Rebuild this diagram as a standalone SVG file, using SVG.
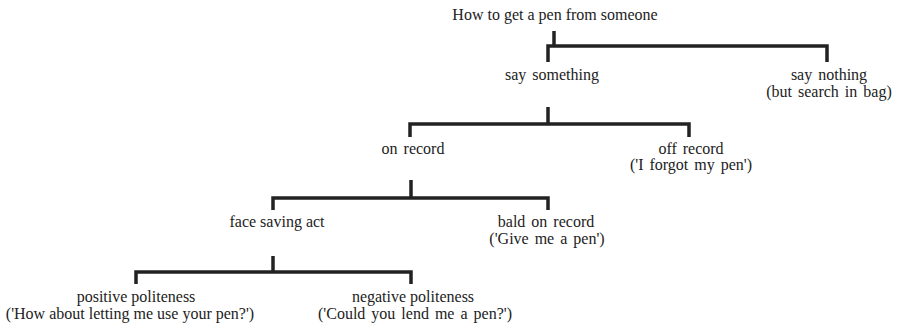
<svg xmlns="http://www.w3.org/2000/svg" width="899" height="324" viewBox="0 0 899 324">
<style>
text{font-family:'Liberation Serif',serif;font-size:16px;fill:#222;text-anchor:middle}
.w{word-spacing:2px}
.c path{stroke:#222;stroke-width:3.5;fill:none;stroke-linecap:butt;stroke-linejoin:miter}
</style>
<rect width="899" height="324" fill="#fff"/>
<g class="c" id="connectors">
<path d="M554 31V46"/>
<path d="M548 62V46H827V62"/>
<path d="M548 107V124"/>
<path d="M410 137V124H689V137"/>
<path d="M411 180V198"/>
<path d="M273 210V198H548V210"/>
<path d="M273 256V272"/>
<path d="M136 284V272H411V284"/>
</g>
<g id="root"><text x="555" y="20">How to get a pen from someone</text></g>
<g id="say-something"><text class="w" x="552" y="80">say something</text></g>
<g id="say-nothing"><text class="w" x="829" y="80">say nothing</text><text class="w" x="829" y="97">(but search in bag)</text></g>
<g id="on-record"><text class="w" x="413" y="154">on record</text></g>
<g id="off-record"><text class="w" x="691" y="154">off record</text><text class="w" x="691" y="170">('I forgot my pen')</text></g>
<g id="face-saving"><text x="277" y="227">face saving act</text></g>
<g id="bald"><text class="w" x="546" y="227">bald on record</text><text class="w" x="547" y="244">('Give me a pen')</text></g>
<g id="positive"><text x="136" y="302">positive politeness</text><text x="130" y="319">('How about letting me use your pen?')</text></g>
<g id="negative"><text x="413" y="302">negative politeness</text><text class="w" x="415" y="319">('Could you lend me a pen?')</text></g>
</svg>
